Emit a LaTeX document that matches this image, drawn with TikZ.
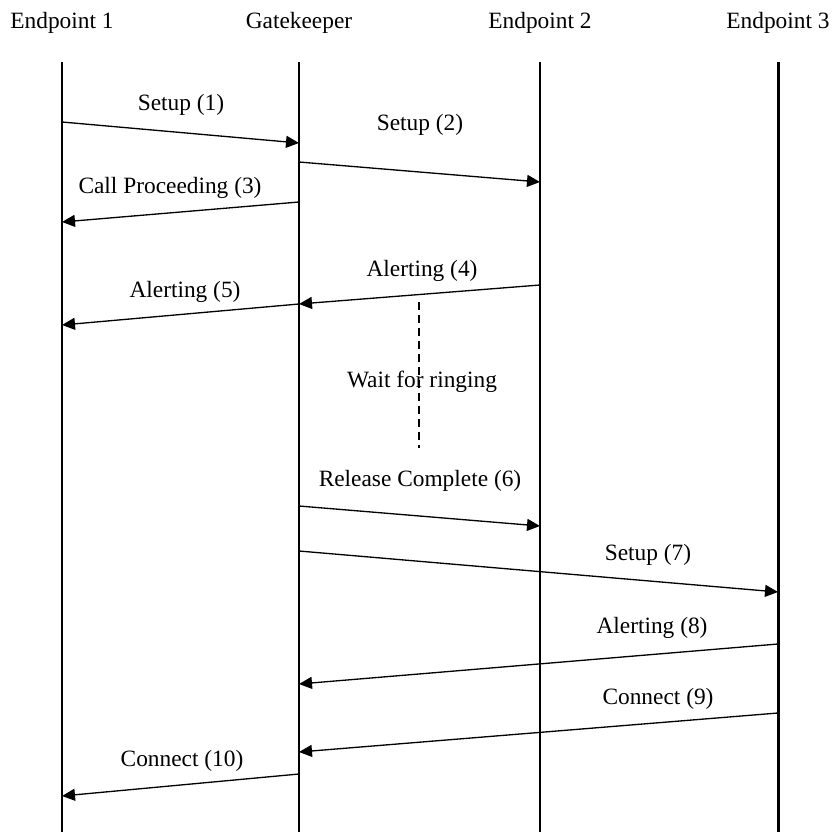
\documentclass[tikz,border=0pt]{standalone}
\usepackage{fontspec}
\setmainfont{Liberation Serif}
\usetikzlibrary{arrows.meta}

\newcommand*{\xone}{62}
\newcommand*{\xgk}{299}
\newcommand*{\xtwo}{540}
\newcommand*{\xthree}{778}
\newcommand*{\ytop}{62}
\newcommand*{\ybot}{832}

\begin{document}
\begin{tikzpicture}
[
	x=0.02cm, y=-0.02cm,
	lifeline/.style={line width=1.7pt},
	msg/.style={line width=0.75pt,-{Triangle[length=0.26cm,width=0.24cm]}},
	lbl/.style={inner sep=0pt,font=\fontsize{13.3}{16}\selectfont},
]
	\useasboundingbox (0,0) rectangle (832,832);

	% headers
	\node[lbl] (ep1) at (\xone,23) {Endpoint 1};
	\node[lbl] (gk) at (\xgk,23) {Gatekeeper};
	\node[lbl] (ep2) at (\xtwo,23) {Endpoint 2};
	\node[lbl] (ep3) at (\xthree,23) {Endpoint 3};

	% lifelines
	\coordinate (ep1top) at (\xone,\ytop);
	\coordinate (ep1bot) at (\xone,\ybot);
	\coordinate (gktop) at (\xgk,\ytop);
	\coordinate (gkbot) at (\xgk,\ybot);
	\coordinate (ep2top) at (\xtwo,\ytop);
	\coordinate (ep2bot) at (\xtwo,\ybot);
	\coordinate (ep3top) at (\xthree,\ytop);
	\coordinate (ep3bot) at (\xthree,\ybot);
	\draw[lifeline] (ep1top) -- (ep1bot);
	\draw[lifeline] (gktop) -- (gkbot);
	\draw[lifeline] (ep2top) -- (ep2bot);
	\draw[lifeline] (ep3top) -- (ep3bot);

	% message end points
	\coordinate (m1s) at (\xone,122);   \coordinate (m1e) at (\xgk,143);
	\coordinate (m2s) at (\xgk,162);    \coordinate (m2e) at (\xtwo,182);
	\coordinate (m3s) at (\xgk,202);    \coordinate (m3e) at (\xone,222);
	\coordinate (m4s) at (\xtwo,285);   \coordinate (m4e) at (\xgk,304);
	\coordinate (m5s) at (\xgk,304);    \coordinate (m5e) at (\xone,325);
	\coordinate (m6s) at (\xgk,506);    \coordinate (m6e) at (\xtwo,526);
	\coordinate (m7s) at (\xgk,551);    \coordinate (m7e) at (\xthree,592);
	\coordinate (m8s) at (\xthree,644); \coordinate (m8e) at (\xgk,684);
	\coordinate (m9s) at (\xthree,713); \coordinate (m9e) at (\xgk,752);
	\coordinate (m10s) at (\xgk,774);   \coordinate (m10e) at (\xone,796);

	% messages
	\draw[msg] (m1s) -- (m1e);
	\draw[msg] (m2s) -- (m2e);
	\draw[msg] (m3s) -- (m3e);
	\draw[msg] (m4s) -- (m4e);
	\draw[msg] (m5s) -- (m5e);
	\draw[msg] (m6s) -- (m6e);
	\draw[msg] (m7s) -- (m7e);
	\draw[msg] (m8s) -- (m8e);
	\draw[msg] (m9s) -- (m9e);
	\draw[msg] (m10s) -- (m10e);

	\node[lbl] (l1) at (181,105) {Setup (1)};
	\node[lbl] (l2) at (420,125) {Setup (2)};
	\node[lbl] (l3) at (170,188) {Call Proceeding (3)};
	\node[lbl] (l4) at (422,271) {Alerting (4)};
	\node[lbl] (l5) at (185,292) {Alerting (5)};
	\node[lbl] (l6) at (420,481) {Release Complete (6)};
	\node[lbl] (l7) at (648,555) {Setup (7)};
	\node[lbl] (l8) at (652,628) {Alerting (8)};
	\node[lbl] (l9) at (658,699) {Connect (9)};
	\node[lbl] (l10) at (182,761) {Connect (10)};

	% waiting
	\coordinate (waittop) at (419,302);
	\coordinate (waitbot) at (419,448);
	\draw[line width=1.1pt,dash pattern=on 0.16cm off 0.1cm] (waittop) -- (waitbot);
	\node[lbl] (wait) at (422,382) {Wait for ringing};

\end{tikzpicture}
\end{document}
